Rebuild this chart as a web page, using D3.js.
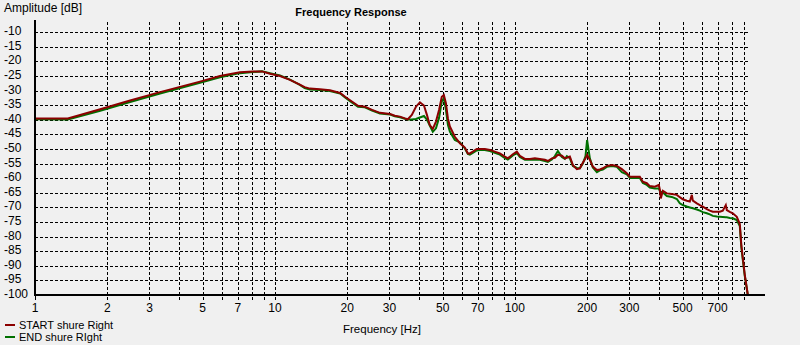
<!DOCTYPE html>
<html>
<head>
<meta charset="utf-8">
<script src="https://cdn.jsdelivr.net/npm/d3@7"></script>
<style>
  body { margin: 0; background: #f0f0f0; }
  svg { display: block; }
  text { font-family: "Liberation Sans", Arial, sans-serif; fill: #000; }
</style>
</head>
<body>
<div id="chart"></div>
<script>
// Frequency points (Hz), shared by both measurements
const freqs = [
    1, 1.37, 1.87, 2.49, 3.32,
    4.87, 5.9, 7.15, 8.09, 8.83,
    9.53, 10.5, 11.55, 12.7, 13.3,
    14.0, 15.4, 16.95, 18.7, 19.6,
    20.5, 22.2, 23.7, 25.4, 27.4,
    30.2, 31.6, 33.2, 34.8, 35.8,
    37.2, 38.7, 40.2, 41.8, 43.0,
    44.2, 45.5, 46.9, 48.3, 49.6,
    50.6, 51.6, 52.6, 53.6, 56.2,
    59.0, 61.9, 63.7, 64.9, 66.8,
    69.4, 71.5, 75.0, 78.7, 82.5,
    86.6, 90.9, 93.5, 98.1, 101.9,
    104.9, 110.1, 115.5, 121.2, 127.1,
    133.4, 137.3, 142.6, 146.8, 151.1,
    157.0, 161.6, 164.7, 169.5, 174.5,
    181.3, 186.6, 192.0, 197, 200,
    205.4, 211.3, 219.7, 226.1, 232.6,
    241.7, 253.6, 266.1, 279.2, 292.9,
    301.5, 316.2, 331.7, 341.5, 354.8,
    365.2, 383.1, 398.1, 401.9, 405.8,
    413.7, 429.9, 451.0, 473.2, 486.9,
    501.2, 520.8, 536.1, 546.5, 551.8,
    573.4, 590.2, 607.4, 631.0, 649.4,
    668.3, 694.5, 714.8, 735.6, 757.1,
    764.4, 786.6, 809.6, 841.4, 866.0,
    878.6, 891.3, 908.5, 935.2];

// START shure Right (dB)
const startDb = [
    -39.5, -39.5, -36.4, -33.4, -30.5,
    -26.9, -25.0, -23.7, -23.4, -23.4,
    -24.2, -25.0, -26.3, -27.9, -28.8,
    -29.3, -29.5, -29.9, -30.8, -32.1,
    -33.2, -35.2, -35.5, -36.6, -37.6,
    -38.0, -38.6, -38.9, -39.5, -39.8,
    -38.3, -35.5, -34.0, -35.1, -38.3,
    -41.8, -43.1, -40.6, -36.6, -32.1,
    -31.5, -34.3, -39.5, -42.3, -45.8,
    -48.0, -49.5, -51.5, -51.5, -50.9,
    -50.0, -50.0, -50.0, -50.3, -50.9,
    -51.5, -52.6, -53.2, -51.8, -50.9,
    -52.3, -53.4, -53.4, -53.2, -53.4,
    -53.7, -54.1, -53.2, -53.0, -52.0,
    -52.3, -53.2, -53.0, -52.6, -55.5,
    -56.9, -56.6, -54.7, -53.2, -52.0,
    -53.7, -56.0, -57.2, -57.0, -56.6,
    -55.8, -55.5, -55.8, -56.9, -58.3,
    -59.5, -59.5, -59.5, -61.2, -61.7,
    -62.7, -62.9, -62.3, -63.8, -66.9,
    -64.3, -65.2, -65.4, -65.7, -66.5,
    -67.2, -67.7, -68.0, -65.7, -67.7,
    -68.6, -69.2, -69.7, -70.6, -71.1,
    -71.5, -71.5, -71.5, -71.1, -69.2,
    -70.9, -71.5, -72.0, -73.2, -75.7,
    -82.8, -87.3, -93.1, -100];

// END shure RIght (dB)
const endDb = [
    -39.8, -39.9, -36.9, -33.9, -31.0,
    -27.3, -25.4, -24.0, -23.6, -23.4,
    -24.0, -24.8, -26.2, -28.0, -29.1,
    -29.6, -29.8, -30.1, -31.0, -32.3,
    -33.5, -35.5, -35.7, -36.8, -37.8,
    -38.2, -38.8, -39.1, -39.6, -39.9,
    -39.9, -39.7, -39.2, -38.7, -39.9,
    -42.0, -44.1, -42.9, -39.4, -33.7,
    -32.6, -36.6, -41.7, -44.0, -46.9,
    -47.7, -49.8, -51.7, -51.9, -51.3,
    -50.5, -50.3, -50.3, -50.7, -51.3,
    -51.9, -53.1, -53.6, -52.2, -51.3,
    -52.7, -53.7, -53.7, -53.6, -53.7,
    -54.1, -54.4, -53.6, -52.4, -50.7,
    -52.7, -53.4, -52.4, -53.1, -55.8,
    -56.5, -56.6, -55.0, -52.4, -46.9,
    -53.2, -56.3, -57.9, -57.3, -57.0,
    -56.1, -55.8, -56.1, -57.9, -58.7,
    -59.9, -59.9, -59.9, -61.6, -62.3,
    -63.2, -63.5, -63.5, -64.4, -64.6,
    -64.9, -66.1, -66.4, -67.1, -68.6,
    -69.2, -69.7, -70.0, -70.2, -70.3,
    -70.7, -71.1, -71.6, -72.0, -72.4,
    -72.9, -73.1, -73.2, -73.3, -73.4,
    -73.4, -73.6, -73.7, -74.3, -76.4,
    -83.5, -88.0, -93.5, -100];

const yTicks = [-10, -15, -20, -25, -30, -35, -40, -45, -50, -55, -60, -65, -70, -75, -80, -85, -90, -95, -100];
const xLabels = [1, 2, 3, 5, 7, 10, 20, 30, 50, 70, 100, 200, 300, 500, 700];
const seriesNames = ["START shure Right", "END shure RIght"];
const seriesColors = ["#8b0000", "#007000"];

const width = 800, height = 345;

const svg = d3.select("#chart").append("svg")
    .attr("width", width)
    .attr("height", height);

const x = d3.scaleLog().domain([1, 955]).range([35, 750]);
const y = d3.scaleLinear().domain([-100, -5.8]).range([295, 20]);

// vertical grid: every 1..9 of each decade
let gridX = [];
[1, 10, 100].forEach(dec => {
    for (let m = 1; m <= 9; m++) gridX.push(m * dec);
});

svg.append("g")
    .selectAll("line")
    .data(gridX.filter(d => d > 1))
    .enter()
    .append("line")
    .attr("x1", d => Math.round(x(d)) + 0.5)
    .attr("x2", d => Math.round(x(d)) + 0.5)
    .attr("y1", 22)
    .attr("y2", 300)
    .style("stroke", "#000")
    .style("stroke-width", 1)
    .style("stroke-dasharray", "3,2");

// little tick under the axis at 1
svg.append("line")
    .attr("x1", 35.5).attr("x2", 35.5)
    .attr("y1", 295).attr("y2", 300)
    .style("stroke", "#000");

// horizontal grid
svg.append("g")
    .selectAll("line")
    .data(yTicks.filter(d => d > -100))
    .enter()
    .append("line")
    .attr("x1", 35)
    .attr("x2", 750)
    .attr("y1", d => Math.round(y(d)) + 0.5)
    .attr("y2", d => Math.round(y(d)) + 0.5)
    .style("stroke", "#000")
    .style("stroke-width", 1)
    .style("stroke-dasharray", "3,2");

// curves, END first so START sits on top
const line = d3.line()
    .x(d => x(d[0]))
    .y(d => y(d[1]));

[endDb, startDb].forEach((vals, i) => {
    svg.append("path")
        .datum(freqs.map((f, j) => [f, vals[j]]))
        .attr("d", line)
        .style("fill", "none")
        .style("stroke", seriesColors[1 - i])
        .style("stroke-width", 2)
        .style("stroke-linejoin", "miter");
});

// axis lines
svg.append("line")
    .attr("x1", 35).attr("x2", 35)
    .attr("y1", y(-5.8)).attr("y2", 296)
    .style("stroke", "#000")
    .style("stroke-width", 2);

svg.append("line")
    .attr("x1", 34).attr("x2", 765)
    .attr("y1", 295).attr("y2", 295)
    .style("stroke", "#000")
    .style("stroke-width", 2);

// tick labels
svg.append("g")
    .selectAll("text")
    .data(yTicks)
    .enter()
    .append("text")
    .attr("x", 4)
    .attr("y", d => y(d) + 3)
    .style("font-size", "12px")
    .text(d => d);

svg.append("g")
    .selectAll("text")
    .data(xLabels)
    .enter()
    .append("text")
    .attr("x", d => x(d))
    .attr("y", 312)
    .style("font-size", "12px")
    .style("text-anchor", "middle")
    .text(d => d);

// titles
svg.append("text")
    .attr("x", 4).attr("y", 12)
    .style("font-size", "12px")
    .text("Amplitude [dB]");

svg.append("text")
    .attr("x", 351).attr("y", 16)
    .style("font-size", "11px")
    .style("font-weight", "bold")
    .style("text-anchor", "middle")
    .text("Frequency Response");

svg.append("text")
    .attr("x", 382).attr("y", 333)
    .style("font-size", "11.5px")
    .style("text-anchor", "middle")
    .text("Frequency [Hz]");

// legend
seriesNames.forEach((name, i) => {
    let ly = 325 + i * 12;
    svg.append("line")
        .attr("x1", 5).attr("x2", 15)
        .attr("y1", ly).attr("y2", ly)
        .style("stroke", seriesColors[i])
        .style("stroke-width", 2);
    svg.append("text")
        .attr("x", 19).attr("y", ly + 4)
        .style("font-size", "11px")
        .text(name);
});
</script>
</body>
</html>
